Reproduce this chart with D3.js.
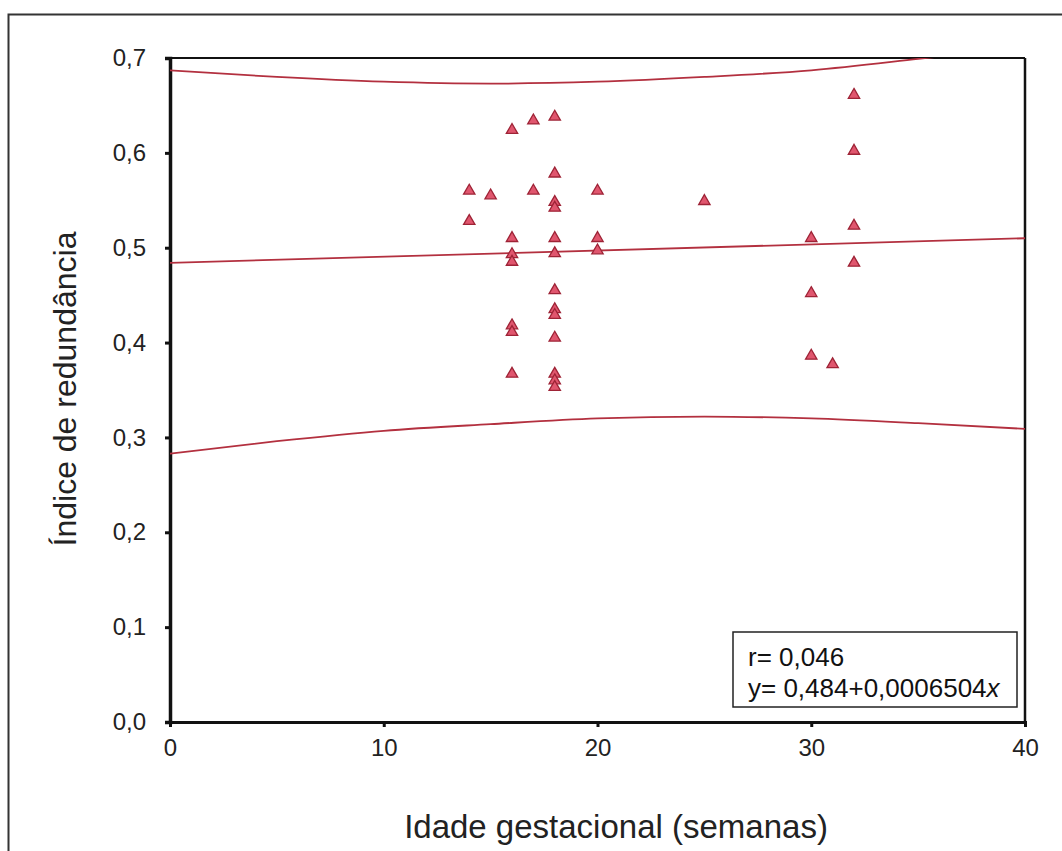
<!DOCTYPE html>
<html><head><meta charset="utf-8">
<script src="https://cdn.jsdelivr.net/npm/d3@7"></script>
<style>
html,body{margin:0;padding:0;background:#fff;}
svg{display:block;font-family:"Liberation Sans",Arial,sans-serif;}
</style></head>
<body>
<svg id="c" width="1062" height="851"></svg>
<script>
// Data
const ageWeeks = [14,14,15,16,16,16,16,16,16,16,17,17,18,18,18,18,18,18,18,18,18,18,18,18,18,20,20,20,25,30,30,30,31,32,32,32,32];
const redundancy = [0.560,0.528,0.555,0.624,0.510,0.493,0.485,0.418,0.411,0.367,0.634,0.560,0.638,0.578,0.548,0.542,0.510,0.494,0.455,0.435,0.429,0.405,0.367,0.360,0.353,0.560,0.510,0.497,0.549,0.510,0.452,0.386,0.377,0.661,0.602,0.523,0.484];
const bandX = [0,5,10,15,20,25,30,35,40];
const upperBand = [0.687,0.680,0.675,0.673,0.675,0.680,0.687,0.699,0.712];
const lowerBand = [0.283,0.296,0.307,0.314,0.320,0.322,0.320,0.315,0.309];
const fitX = [0,40];
const fitY = [0.484,0.510];
const xTicks = [0,10,20,30,40];
const yTicks = [0,0.1,0.2,0.3,0.4,0.5,0.6,0.7];
const statLines = ["r= 0,046","y= 0,484+0,0006504"];

const svg = d3.select("#c");
const L=170, R=1025, T=58, B=722;
const x = d3.scaleLinear().domain([0,40]).range([L,R]);
const y = d3.scaleLinear().domain([0,0.7]).range([B,T]);
const fmt = d => d3.format(".1f")(d).replace(".",",");

// outer frame
svg.append("path").attr("d","M8.5,851 L8.5,14.5 L1062,14.5").attr("fill","none").attr("stroke","#333").attr("stroke-width",2);

svg.append("defs").append("clipPath").attr("id","pc").append("rect")
  .attr("x",L).attr("y",T).attr("width",R-L).attr("height",B-T);

// plot box top/right
svg.append("line").attr("x1",L).attr("x2",R).attr("y1",T).attr("y2",T).attr("stroke","#111").attr("stroke-width",2);
svg.append("line").attr("x1",R).attr("x2",R).attr("y1",T).attr("y2",B).attr("stroke","#111").attr("stroke-width",2.5);

// axes
const yAxis = d3.axisLeft(y).tickValues(yTicks).tickFormat(fmt).tickSize(5).tickPadding(19);
const gy = svg.append("g").attr("transform",`translate(${L},0)`).call(yAxis);
gy.select(".domain").attr("stroke","#111").attr("stroke-width",3.5);
gy.selectAll(".tick line").attr("stroke","#111").attr("stroke-width",3);
gy.selectAll("text").attr("font-size",24).attr("fill","#222");

const xAxis = d3.axisBottom(x).tickValues(xTicks).tickFormat(d3.format("d")).tickSize(5).tickPadding(12);
const gx = svg.append("g").attr("transform",`translate(0,${B})`).call(xAxis);
gx.select(".domain").attr("stroke","#111").attr("stroke-width",3);
gx.selectAll(".tick line").attr("stroke","#111").attr("stroke-width",3);
gx.selectAll("text").attr("font-size",24).attr("fill","#222");

// lines
const lineColor = "#b3303f";
const lg = svg.append("g").attr("clip-path","url(#pc)");
const curve = d3.line().x(d=>x(d[0])).y(d=>y(d[1])).curve(d3.curveMonotoneX);
lg.append("path").attr("d",curve(bandX.map((v,i)=>[v,upperBand[i]]))).attr("fill","none").attr("stroke",lineColor).attr("stroke-width",1.8);
lg.append("path").attr("d",curve(bandX.map((v,i)=>[v,lowerBand[i]]))).attr("fill","none").attr("stroke",lineColor).attr("stroke-width",1.8);
lg.append("path").attr("d",d3.line().x(d=>x(d[0])).y(d=>y(d[1]))(fitX.map((v,i)=>[v,fitY[i]]))).attr("fill","none").attr("stroke",lineColor).attr("stroke-width",1.8);

// points
const sym = d3.symbol().type(d3.symbolTriangle).size(56);
svg.append("g").selectAll("path").data(ageWeeks.map((v,i)=>[v,redundancy[i]])).join("path")
  .attr("d",sym).attr("transform",d=>`translate(${x(d[0])},${y(d[1])})`)
  .attr("fill","#e0566e").attr("stroke","#9e2336").attr("stroke-width",1.3);

// stats box
svg.append("rect").attr("x",733).attr("y",632).attr("width",284).attr("height",75)
  .attr("fill","#fff").attr("stroke","#222").attr("stroke-width",1.5);
svg.append("text").attr("x",748).attr("y",666).attr("font-size",26).attr("fill","#111").text(statLines[0]);
const t2 = svg.append("text").attr("x",748).attr("y",697).attr("font-size",26).attr("fill","#111");
t2.append("tspan").text(statLines[1]);
t2.append("tspan").attr("font-style","italic").text("x");

// axis titles
svg.append("text").attr("x",616).attr("y",838).attr("text-anchor","middle").attr("font-size",33).attr("fill","#222").text("Idade gestacional (semanas)");
svg.append("text").attr("transform","translate(76,389) rotate(-90)").attr("text-anchor","middle").attr("font-size",32).attr("fill","#222").text("Índice de redundância");
</script>
</body></html>
